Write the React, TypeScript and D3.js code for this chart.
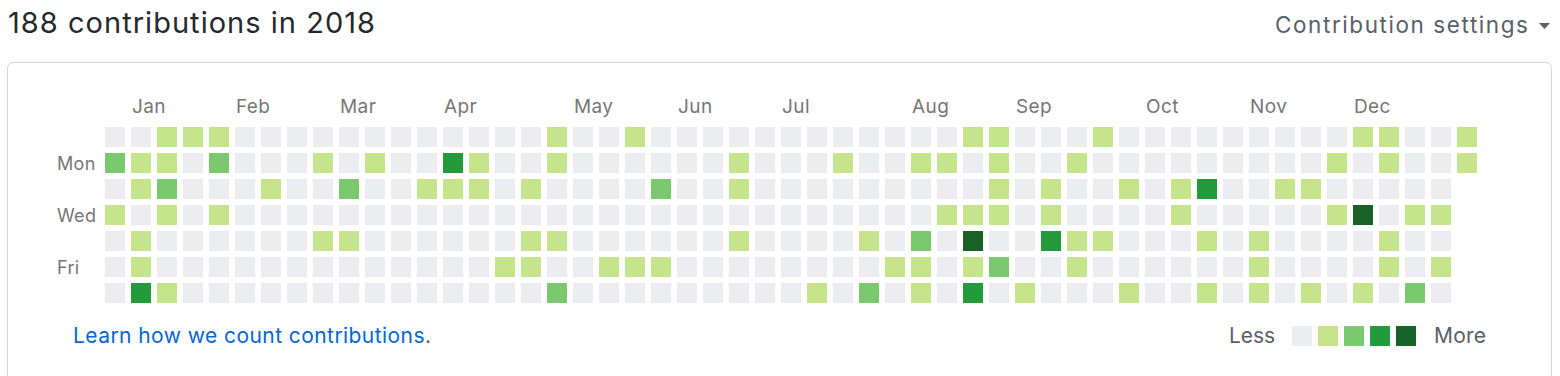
import React from "react";
import * as d3 from "d3";

// Contribution levels (0-4) per weekday row, one entry per week column
const sunLevels = [0,0,1,1,1,0,0,0,0,0,0,0, 0,0,0,0,0,1,0,0,1,0,0,0,0, 0,0,0,0,0,0,0,0,1,1,0,0,0,1, 0,0,0,0,0,0,0,0,0,1,1,0,0,1];
const monLevels = [2,1,1,0,2,0,0,0,1,0,1,0, 0,3,1,0,0,1,0,0,0,0,0,0,1, 0,0,0,1,0,0,1,1,0,1,0,0,1,0, 0,0,0,0,0,0,0,0,1,0,1,0,0,1];
const tueLevels = [0,1,2,0,0,0,1,0,0,2,0,0, 1,1,1,0,1,0,0,0,0,2,0,0,1, 0,0,0,0,0,0,0,0,0,1,0,1,0,0, 1,0,1,3,0,0,1,1,0,0,0,0,0];
const wedLevels = [1,0,1,0,1,0,0,0,0,0,0,0, 0,0,0,0,0,0,0,0,0,0,0,0,0, 0,0,0,0,0,0,0,1,1,1,0,1,0,0, 0,0,1,0,0,0,0,0,1,4,0,1,1];
const thuLevels = [0,1,0,0,0,0,0,0,1,1,0,0, 0,0,0,0,1,1,0,0,0,0,0,0,1, 0,0,0,0,1,0,2,0,4,0,0,3,1,1, 0,0,0,1,0,1,0,0,0,0,1,0,0];
const friLevels = [0,1,0,0,0,0,0,0,0,0,0,0, 0,0,0,1,1,0,0,1,1,1,0,0,0, 0,0,0,0,0,1,1,0,1,2,0,0,1,0, 0,0,0,0,0,1,0,0,0,0,1,0,1];
const satLevels = [0,3,1,0,0,0,0,0,0,0,0,0, 0,0,0,0,0,2,0,0,0,0,0,0,0, 0,0,1,0,2,0,1,0,3,0,1,0,0,0, 1,0,0,1,0,1,0,1,0,1,0,2,0];

const weekRows = [sunLevels, monLevels, tueLevels, wedLevels, thuLevels, friLevels, satLevels];
const dayLabels = ["", "Mon", "", "Wed", "", "Fri", ""];
const levelColors = ["#ebedf0", "#c6e48b", "#7bc96f", "#239a3b", "#196127"];
const legendLevels = [0, 1, 2, 3, 4];
const firstSunday = new Date(2017, 11, 31);
const titleText = "188 contributions in 2018";

export default function App() {
  const nWeeks = sunLevels.length;
  const x = d3.scaleLinear().domain([0, 1]).range([105, 131]);
  const y = d3.scaleLinear().domain([0, 1]).range([127, 153]);
  const cell = 20;
  const color = d3.scaleOrdinal<number, string>().domain(legendLevels).range(levelColors);

  const weeks = d3.range(nWeeks);
  const monthFmt = d3.timeFormat("%b");
  const monthLabels = weeks
    .map((w) => {
      const d = d3.timeDay.offset(firstSunday, w * 7);
      const prev = d3.timeDay.offset(firstSunday, (w - 1) * 7);
      return d.getMonth() !== prev.getMonth() && d.getFullYear() === 2018 ? { w, label: monthFmt(d) } : null;
    })
    .filter(Boolean) as { w: number; label: string }[];

  const lx = d3.scaleLinear().domain([0, 1]).range([1292, 1318]);
  const font = "Inter, 'Liberation Sans', Arial, sans-serif";

  return (
    <svg width={1560} height={376} style={{ position: "absolute", left: 0, top: 0, fontFamily: font }}>
      <rect x={0} y={0} width={1560} height={376} fill="#ffffff" />
      <text x={8} y={33} fontSize={29} fill="#24292e" textLength={367} lengthAdjust="spacing">{titleText}</text>
      <text x={1275} y={33} fontSize={22.5} fill="#586069" textLength={253} lengthAdjust="spacing">Contribution settings</text>
      <path d="M1539,23 L1550,23 L1544.5,29 Z" fill="#586069" />
      <rect x={7.5} y={62.5} width={1544} height={360} rx={6} fill="none" stroke="#d1d5da" />
      {monthLabels.map((m) => (
        <text key={m.w} x={x(m.w) + 1} y={113} fontSize={19} fill="#767676" letterSpacing={0.4}>{m.label}</text>
      ))}
      {dayLabels.map((d, i) =>
        d ? (
          <text key={i} x={57} y={y(i) + 17} fontSize={18} fill="#767676" letterSpacing={0.3}>{d}</text>
        ) : null
      )}
      {weekRows.map((row, r) =>
        row.map((lv, w) => (
          <rect key={r + "-" + w} x={x(w)} y={y(r)} width={cell} height={cell} fill={color(lv)} />
        ))
      )}
      <text x={73} y={343} fontSize={21} textLength={358} lengthAdjust="spacing">
        <tspan fill="#0366d6">Learn how we count contributions</tspan>
        <tspan fill="#586069">.</tspan>
      </text>
      <text x={1229} y={343} fontSize={21} fill="#586069" textLength={46} lengthAdjust="spacing">Less</text>
      {legendLevels.map((lv) => (
        <rect key={lv} x={lx(lv)} y={326} width={cell} height={cell} fill={color(lv)} />
      ))}
      <text x={1434} y={343} fontSize={21} fill="#586069" textLength={52} lengthAdjust="spacing">More</text>
    </svg>
  );
}
